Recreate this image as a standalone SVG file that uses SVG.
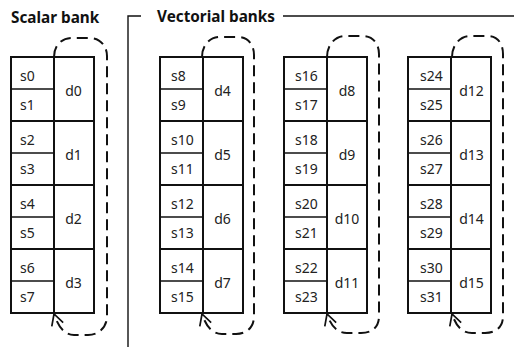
<svg xmlns="http://www.w3.org/2000/svg" width="514" height="355" viewBox="0 0 514 355">
  <style>
    .title { font-family: "Noto Sans", "Liberation Sans", sans-serif; font-weight: bold; font-size: 15.3px; fill: #111; }
    .cell { font-family: "Noto Sans", "Liberation Sans", sans-serif; font-size: 14px; fill: #222; dominant-baseline: central; }
    .d { text-anchor: middle; }
    .frame { fill: #fff; stroke: #111; stroke-width: 2; }
    .rule { stroke: #111; stroke-width: 2; fill: none; }
    .thin { stroke: #111; stroke-width: 1.6; fill: none; }
    .loop { stroke: #111; stroke-width: 2; fill: none; stroke-dasharray: 11 6; marker-end: url(#open); }
    .group { stroke: #111; stroke-width: 1.4; fill: none; }
  </style>
  <defs>
    <marker id="open" viewBox="0 0 14 14" refX="12" refY="7" markerWidth="14" markerHeight="14" markerUnits="userSpaceOnUse" orient="auto">
      <path d="M1,1 L12,7 L1,13" fill="none" stroke="#111" stroke-width="1.7"/>
    </marker>
    <!-- one register bank: 8 single cells on the left, 4 double cells on the right -->
    <g id="bank">
      <rect class="frame" x="0" y="0" width="83" height="256"/>
      <line class="rule" x1="43" y1="0" x2="43" y2="256"/>
      <line class="rule" x1="0" y1="64" x2="83" y2="64"/>
      <line class="rule" x1="0" y1="128" x2="83" y2="128"/>
      <line class="rule" x1="0" y1="192" x2="83" y2="192"/>
      <line class="thin" x1="0" y1="32" x2="43" y2="32"/>
      <line class="thin" x1="0" y1="96" x2="43" y2="96"/>
      <line class="thin" x1="0" y1="160" x2="43" y2="160"/>
      <line class="thin" x1="0" y1="224" x2="43" y2="224"/>
    </g>
  </defs>

  <!-- section headings -->
  <text class="title" x="11" y="23">Scalar bank</text>
  <text class="title" x="157" y="22">Vectorial banks</text>
  <polyline class="group" points="141,16 128,16 128,347"/>
  <line class="group" x1="283" y1="16" x2="514" y2="16"/>

  <g id="connectors">
    <path class="loop" d="M54,57 C54,45 62,38 72,38 L90,38 C100,38 107,46 107,56 L107,316 C107,328 98,335 88,335 L74,335 C64,335 58,326 54,314"/>
    <path class="loop" d="M202,57 C202,45 210,37 220,37 L238,37 C248,37 254,45 254,55 L254,316 C254,328 246,334 236,334 L222,334 C212,334 206,326 202,314"/>
    <path class="loop" d="M327,57 C327,45 335,36 345,36 L363,36 C373,36 379,44 379,54 L379,316 C379,328 371,333 361,333 L347,333 C337,333 331,326 327,314"/>
    <path class="loop" d="M452,57 C452,45 460,36 470,36 L488,36 C498,36 503,44 503,54 L503,316 C503,328 495,333 485,333 L472,333 C462,333 456,326 452,314"/>
  </g>

  <g id="scalar-bank">
    <use href="#bank" x="11" y="57"/>
    <text class="cell" x="20" y="75">s0</text>
    <text class="cell" x="20" y="104">s1</text>
    <text class="cell" x="20" y="139">s2</text>
    <text class="cell" x="20" y="168">s3</text>
    <text class="cell" x="20" y="203">s4</text>
    <text class="cell" x="20" y="232">s5</text>
    <text class="cell" x="20" y="267">s6</text>
    <text class="cell" x="20" y="296">s7</text>
    <text class="cell d" x="73.5" y="90">d0</text>
    <text class="cell d" x="73.5" y="154">d1</text>
    <text class="cell d" x="73.5" y="218">d2</text>
    <text class="cell d" x="73.5" y="282">d3</text>
  </g>

  <g id="vector-bank-1">
    <use href="#bank" x="160" y="57"/>
    <text class="cell" x="171" y="75">s8</text>
    <text class="cell" x="171" y="104">s9</text>
    <text class="cell" x="171" y="139">s10</text>
    <text class="cell" x="171" y="168">s11</text>
    <text class="cell" x="171" y="203">s12</text>
    <text class="cell" x="171" y="232">s13</text>
    <text class="cell" x="171" y="267">s14</text>
    <text class="cell" x="171" y="296">s15</text>
    <text class="cell d" x="222.5" y="90">d4</text>
    <text class="cell d" x="222.5" y="154">d5</text>
    <text class="cell d" x="222.5" y="218">d6</text>
    <text class="cell d" x="222.5" y="282">d7</text>
  </g>

  <g id="vector-bank-2">
    <use href="#bank" x="284" y="57"/>
    <text class="cell" x="295" y="75">s16</text>
    <text class="cell" x="295" y="104">s17</text>
    <text class="cell" x="295" y="139">s18</text>
    <text class="cell" x="295" y="168">s19</text>
    <text class="cell" x="295" y="203">s20</text>
    <text class="cell" x="295" y="232">s21</text>
    <text class="cell" x="295" y="267">s22</text>
    <text class="cell" x="295" y="296">s23</text>
    <text class="cell d" x="347" y="90">d8</text>
    <text class="cell d" x="347" y="154">d9</text>
    <text class="cell d" x="347" y="218">d10</text>
    <text class="cell d" x="347" y="282">d11</text>
  </g>

  <g id="vector-bank-3">
    <use href="#bank" x="408" y="57"/>
    <text class="cell" x="420" y="75">s24</text>
    <text class="cell" x="420" y="104">s25</text>
    <text class="cell" x="420" y="139">s26</text>
    <text class="cell" x="420" y="168">s27</text>
    <text class="cell" x="420" y="203">s28</text>
    <text class="cell" x="420" y="232">s29</text>
    <text class="cell" x="420" y="267">s30</text>
    <text class="cell" x="420" y="296">s31</text>
    <text class="cell d" x="471.5" y="90">d12</text>
    <text class="cell d" x="471.5" y="154">d13</text>
    <text class="cell d" x="471.5" y="218">d14</text>
    <text class="cell d" x="471.5" y="282">d15</text>
  </g>
</svg>
